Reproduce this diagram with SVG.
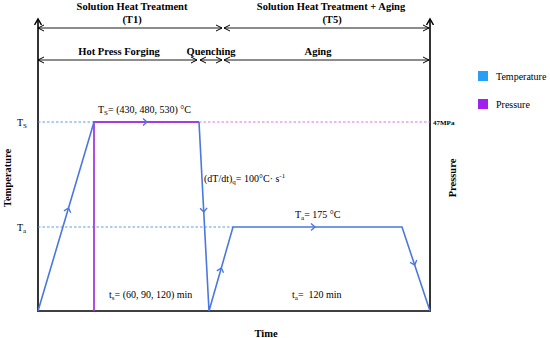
<svg xmlns="http://www.w3.org/2000/svg" width="550" height="338" viewBox="0 0 550 338">
<style>
text{font-family:"Liberation Serif","Times New Roman","DejaVu Serif",serif;fill:#000}
.b{font-weight:bold}
.t10{font-size:10.5px}
.lbl{font-size:10px}
.ax{stroke:#000;stroke-width:1.6;fill:none}
.dim{stroke:#000;stroke-width:0.9;fill:none}
.tp{stroke:#4a78e0;stroke-width:1.6;fill:none;stroke-linejoin:miter}
.pr{stroke:#a63be0;stroke-width:1.8;fill:none}
.dT{stroke:#4a90e2;stroke-width:0.9;stroke-dasharray:2.5,2;fill:none}
.dP{stroke:#c86ae0;stroke-width:0.9;stroke-dasharray:2.5,2;fill:none}
.chev{stroke:#4a78e0;stroke-width:1.4;fill:none}
</style>
<defs>
<marker id="dimArrow" markerUnits="userSpaceOnUse" markerWidth="8" markerHeight="8" refX="6" refY="3" orient="auto-start-reverse" viewBox="0 0 8 6">
<path d="M0,0 L6,3 L0,6" fill="none" stroke="#000" stroke-width="1"/>
</marker>
<marker id="axArrow" markerUnits="userSpaceOnUse" markerWidth="8" markerHeight="8" refX="6" refY="3.5" orient="auto" viewBox="0 0 8 7">
<path d="M0,0 L6,3.5 L0,7" fill="none" stroke="#000" stroke-width="1.4"/>
</marker>
<path id="chevron" d="M-4,-3.5 L0,0 L-4,3.5"/>
</defs>
<rect width="550" height="338" fill="#fff"/>

<g id="axes">
<path class="ax" d="M38,311 L38,19" marker-end="url(#axArrow)"/>
<path class="ax" d="M430,311 L430,19" marker-end="url(#axArrow)"/>
<path class="ax" d="M37,311 L431,311"/>
</g>

<g id="connectors">
<path class="dim" d="M38,28 L222,28" marker-start="url(#dimArrow)" marker-end="url(#dimArrow)"/>
<path class="dim" d="M224,28 L429,28" marker-start="url(#dimArrow)" marker-end="url(#dimArrow)"/>
<path class="dim" d="M38,60 L197,60" marker-start="url(#dimArrow)" marker-end="url(#dimArrow)"/>
<path class="dim" d="M200,60 L222,60" marker-start="url(#dimArrow)" marker-end="url(#dimArrow)"/>
<path class="dim" d="M224,60 L429,60" marker-start="url(#dimArrow)" marker-end="url(#dimArrow)"/>
</g>

<g id="reference-lines">
<path class="dT" d="M38,122 L94,122"/>
<path class="dP" d="M199,122 L430,122"/>
<path class="dT" d="M38,227 L233,227"/>
</g>

<g id="pressure-curve">
<path class="pr" d="M94,311 L94,122 L199,122"/>
</g>

<g id="temperature-curve">
<path class="tp" d="M38,311 L94,122 M199,122 L209,311 L233,227 L402,227 L430,311"/>
<use href="#chevron" class="chev" transform="translate(68.5,208) rotate(-73.5)"/>
<use href="#chevron" class="chev" transform="translate(147,122)"/>
<use href="#chevron" class="chev" transform="translate(203.8,212) rotate(87)"/>
<use href="#chevron" class="chev" transform="translate(221.3,268) rotate(-74)"/>
<use href="#chevron" class="chev" transform="translate(315,227)"/>
<use href="#chevron" class="chev" transform="translate(414.7,265) rotate(71.6)"/>
</g>

<g id="header-T1">
<text class="b t10" x="132" y="10" text-anchor="middle">Solution Heat Treatment</text>
<text class="b t10" x="132" y="23" text-anchor="middle">(T1)</text>
</g>
<g id="header-T5">
<text class="b t10" x="331" y="10" text-anchor="middle">Solution Heat Treatment + Aging</text>
<text class="b t10" x="332" y="23" text-anchor="middle">(T5)</text>
</g>
<g id="stage-hot-press">
<text class="b t10" x="119" y="55" text-anchor="middle">Hot Press Forging</text>
</g>
<g id="stage-quenching">
<text class="b t10" x="211" y="55" text-anchor="middle">Quenching</text>
</g>
<g id="stage-aging">
<text class="b t10" x="318" y="55" text-anchor="middle">Aging</text>
</g>

<g id="axis-labels">
<text class="lbl" x="17" y="126">T<tspan font-size="7" dy="2">S</tspan></text>
<text class="lbl" x="17" y="231">T<tspan font-size="7" dy="2">a</tspan></text>
<text class="b" font-size="10.5" transform="translate(11,178) rotate(-90)" text-anchor="middle">Temperature</text>
<text class="b" font-size="10.5" transform="translate(456,178) rotate(-90)" text-anchor="middle">Pressure</text>
<text class="b" font-size="7" x="433" y="125">47MPa</text>
<text class="b" font-size="10.5" x="266" y="337" text-anchor="middle">Time</text>
</g>

<g id="annotations">
<text class="lbl" x="98" y="113">T<tspan font-size="7" dy="2">S</tspan><tspan dy="-2">= (430, 480, 530) °C</tspan></text>
<text class="lbl" x="204" y="182">(dT/dt)<tspan font-size="7" dy="2">q</tspan><tspan dy="-2">= 100°C· s</tspan><tspan font-size="7" dy="-4">-1</tspan></text>
<text class="lbl" x="295" y="218">T<tspan font-size="7" dy="2">a</tspan><tspan dy="-2">= 175 °C</tspan></text>
<text class="lbl" x="109" y="298">t<tspan font-size="7" dy="2">s</tspan><tspan dy="-2">= (60, 90, 120) min</tspan></text>
<text class="lbl" x="292" y="298" xml:space="preserve">t<tspan font-size="7" dy="2">a</tspan><tspan dy="-2">=  120 min</tspan></text>
</g>

<g id="legend-temperature">
<rect x="478" y="71" width="10" height="10" fill="#2a9df4"/>
<text class="lbl" x="496" y="80">Temperature</text>
</g>
<g id="legend-pressure">
<rect x="478" y="99" width="10" height="10" fill="#a020f0"/>
<text class="lbl" x="496" y="108">Pressure</text>
</g>
</svg>
